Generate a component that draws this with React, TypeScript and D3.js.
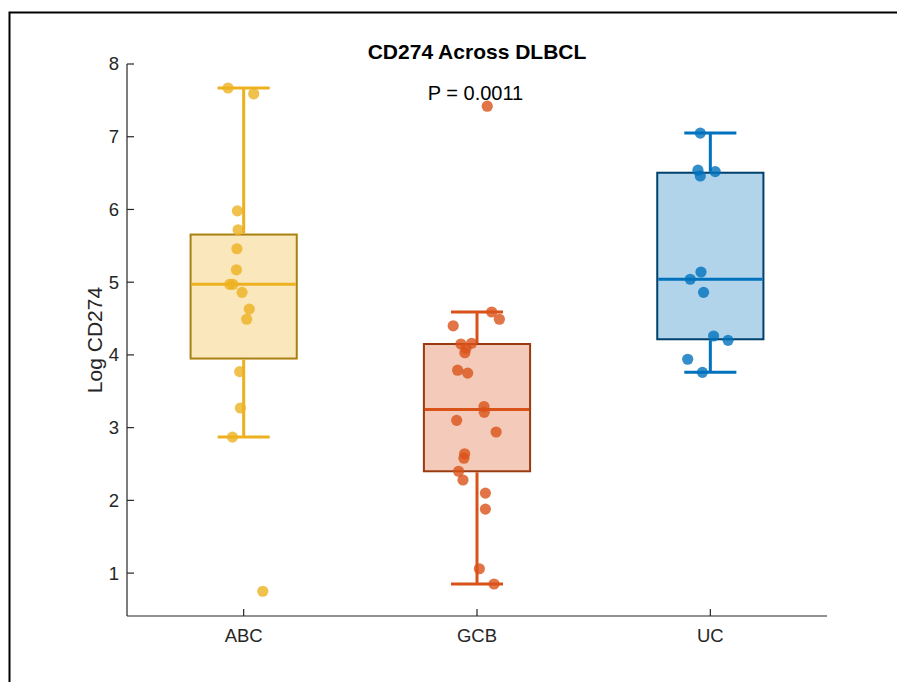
import React from "react";
import * as d3 from "d3";

const categories = ["ABC", "GCB", "UC"];
const colors = ["#EDB120", "#D95319", "#0072BD"];
const edgeColors = ["#A98012", "#9A3A10", "#00406C"];

const abcValues = [7.67, 7.59, 5.98, 5.72, 5.46, 5.17, 4.97, 4.97, 4.86, 4.63, 4.49, 3.77, 3.27, 2.87, 0.75];
const abcJitter = [-0.067, 0.043, -0.027, -0.024, -0.029, -0.031, -0.06, -0.046, -0.007, 0.024, 0.013, -0.017, -0.014, -0.048, 0.082];

const gcbValues = [7.42, 4.59, 4.49, 4.4, 4.15, 4.16, 4.09, 4.03, 3.79, 3.75, 3.29, 3.21, 3.1, 2.94, 2.64, 2.58, 2.4, 2.28, 2.1, 1.88, 1.06, 0.85];
const gcbJitter = [0.044, 0.063, 0.096, -0.102, -0.069, -0.023, -0.047, -0.052, -0.083, -0.04, 0.03, 0.031, -0.087, 0.082, -0.053, -0.056, -0.079, -0.06, 0.036, 0.036, 0.01, 0.073];

const ucValues = [7.05, 6.54, 6.52, 6.46, 5.14, 5.04, 4.86, 4.26, 4.2, 3.94, 3.76];
const ucJitter = [-0.043, -0.053, 0.021, -0.043, -0.04, -0.086, -0.029, 0.014, 0.076, -0.097, -0.034];

const yTicks = [1, 2, 3, 4, 5, 6, 7, 8];
const titleText = "CD274 Across DLBCL";
const pText = "P = 0.0011";
const yLabel = "Log CD274";

const groups = [
  { values: abcValues, jitter: abcJitter },
  { values: gcbValues, jitter: gcbJitter },
  { values: ucValues, jitter: ucJitter },
];

// MATLAB-style quantile
function mq(sorted: number[], p: number) {
  const n = sorted.length;
  const pos = p * n + 0.5;
  if (pos <= 1) return sorted[0];
  if (pos >= n) return sorted[n - 1];
  const i = Math.floor(pos);
  const f = pos - i;
  return sorted[i - 1] + f * (sorted[i] - sorted[i - 1]);
}

function stats(vals: number[]) {
  const s = [...vals].sort((a, b) => a - b);
  const q1 = mq(s, 0.25);
  const med = mq(s, 0.5);
  const q3 = mq(s, 0.75);
  const iqr = q3 - q1;
  const lo = d3.min(s.filter((v) => v >= q1 - 1.5 * iqr)) as number;
  const hi = d3.max(s.filter((v) => v <= q3 + 1.5 * iqr)) as number;
  return { q1, med, q3, lo, hi };
}

const FONT = "'Liberation Sans', Arial, Helvetica, sans-serif";

export default function App() {
  const W = 897;
  const H = 682;
  const x = d3.scaleLinear().domain([0.5, 3.5]).range([127, 827]);
  const y = d3.scaleLinear().domain([0.41, 8]).range([616, 64]);
  const boxHalf = 0.2275;
  const capHalf = 0.1116;
  const axisColor = "#262626";

  return (
    <svg
      width={W}
      height={H}
      style={{ position: "absolute", left: 0, top: 0, background: "#fff" }}
      fontFamily={FONT}
    >
      <rect x={0} y={0} width={W} height={H} fill="#fff" />
      <rect x={9.5} y={12.5} width={W + 20} height={H + 20} fill="none" stroke="#000" strokeWidth={2} />

      {groups.map((g, i) => {
        const st = stats(g.values);
        const cx = i + 1;
        return (
          <g key={"box" + i}>
            <rect
              x={x(cx - boxHalf)}
              y={y(st.q3)}
              width={x(cx + boxHalf) - x(cx - boxHalf)}
              height={y(st.q1) - y(st.q3)}
              fill={colors[i]}
              fillOpacity={0.3}
              stroke={edgeColors[i]}
              strokeWidth={2}
            />
            <line x1={x(cx - boxHalf) + 1} x2={x(cx + boxHalf) - 1} y1={y(st.med)} y2={y(st.med)} stroke={colors[i]} strokeWidth={3} />
            <line x1={x(cx)} x2={x(cx)} y1={y(st.q3) - 1} y2={y(st.hi)} stroke={colors[i]} strokeWidth={3} />
            <line x1={x(cx)} x2={x(cx)} y1={y(st.q1) + 1} y2={y(st.lo)} stroke={colors[i]} strokeWidth={3} />
            <line x1={x(cx - capHalf)} x2={x(cx + capHalf)} y1={y(st.hi)} y2={y(st.hi)} stroke={colors[i]} strokeWidth={3} />
            <line x1={x(cx - capHalf)} x2={x(cx + capHalf)} y1={y(st.lo)} y2={y(st.lo)} stroke={colors[i]} strokeWidth={3} />
          </g>
        );
      })}

      {groups.map((g, i) =>
        g.values.map((v, j) => (
          <circle
            key={"pt" + i + "-" + j}
            cx={x(i + 1 + g.jitter[j])}
            cy={y(v)}
            r={5.6}
            fill={colors[i]}
            fillOpacity={0.8}
          />
        ))
      )}

      {/* axes */}
      <line x1={127} x2={127} y1={y(8)} y2={616} stroke={axisColor} strokeWidth={1.2} />
      <line x1={127} x2={827} y1={616} y2={616} stroke={axisColor} strokeWidth={1.2} />
      {yTicks.map((t) => (
        <g key={"yt" + t}>
          <line x1={127} x2={134} y1={y(t)} y2={y(t)} stroke={axisColor} strokeWidth={1.2} />
          <text x={119} y={y(t)} dy="0.35em" textAnchor="end" fontSize={18.5} fill={axisColor}>
            {t}
          </text>
        </g>
      ))}
      {categories.map((c, i) => (
        <g key={"xt" + c}>
          <line x1={x(i + 1)} x2={x(i + 1)} y1={616} y2={609} stroke={axisColor} strokeWidth={1.2} />
          <text x={x(i + 1)} y={641.5} textAnchor="middle" fontSize={18.5} fill={axisColor}>
            {c}
          </text>
        </g>
      ))}

      <text x={477} y={58.5} textAnchor="middle" fontSize={21} fontWeight="bold" fill="#000">
        {titleText}
      </text>
      <text x={475.5} y={100} textAnchor="middle" fontSize={20} fill="#000">
        {pText}
      </text>
      <text
        transform={`translate(101.5, 340) rotate(-90)`}
        textAnchor="middle"
        fontSize={21}
        fill={axisColor}
      >
        {yLabel}
      </text>
    </svg>
  );
}
